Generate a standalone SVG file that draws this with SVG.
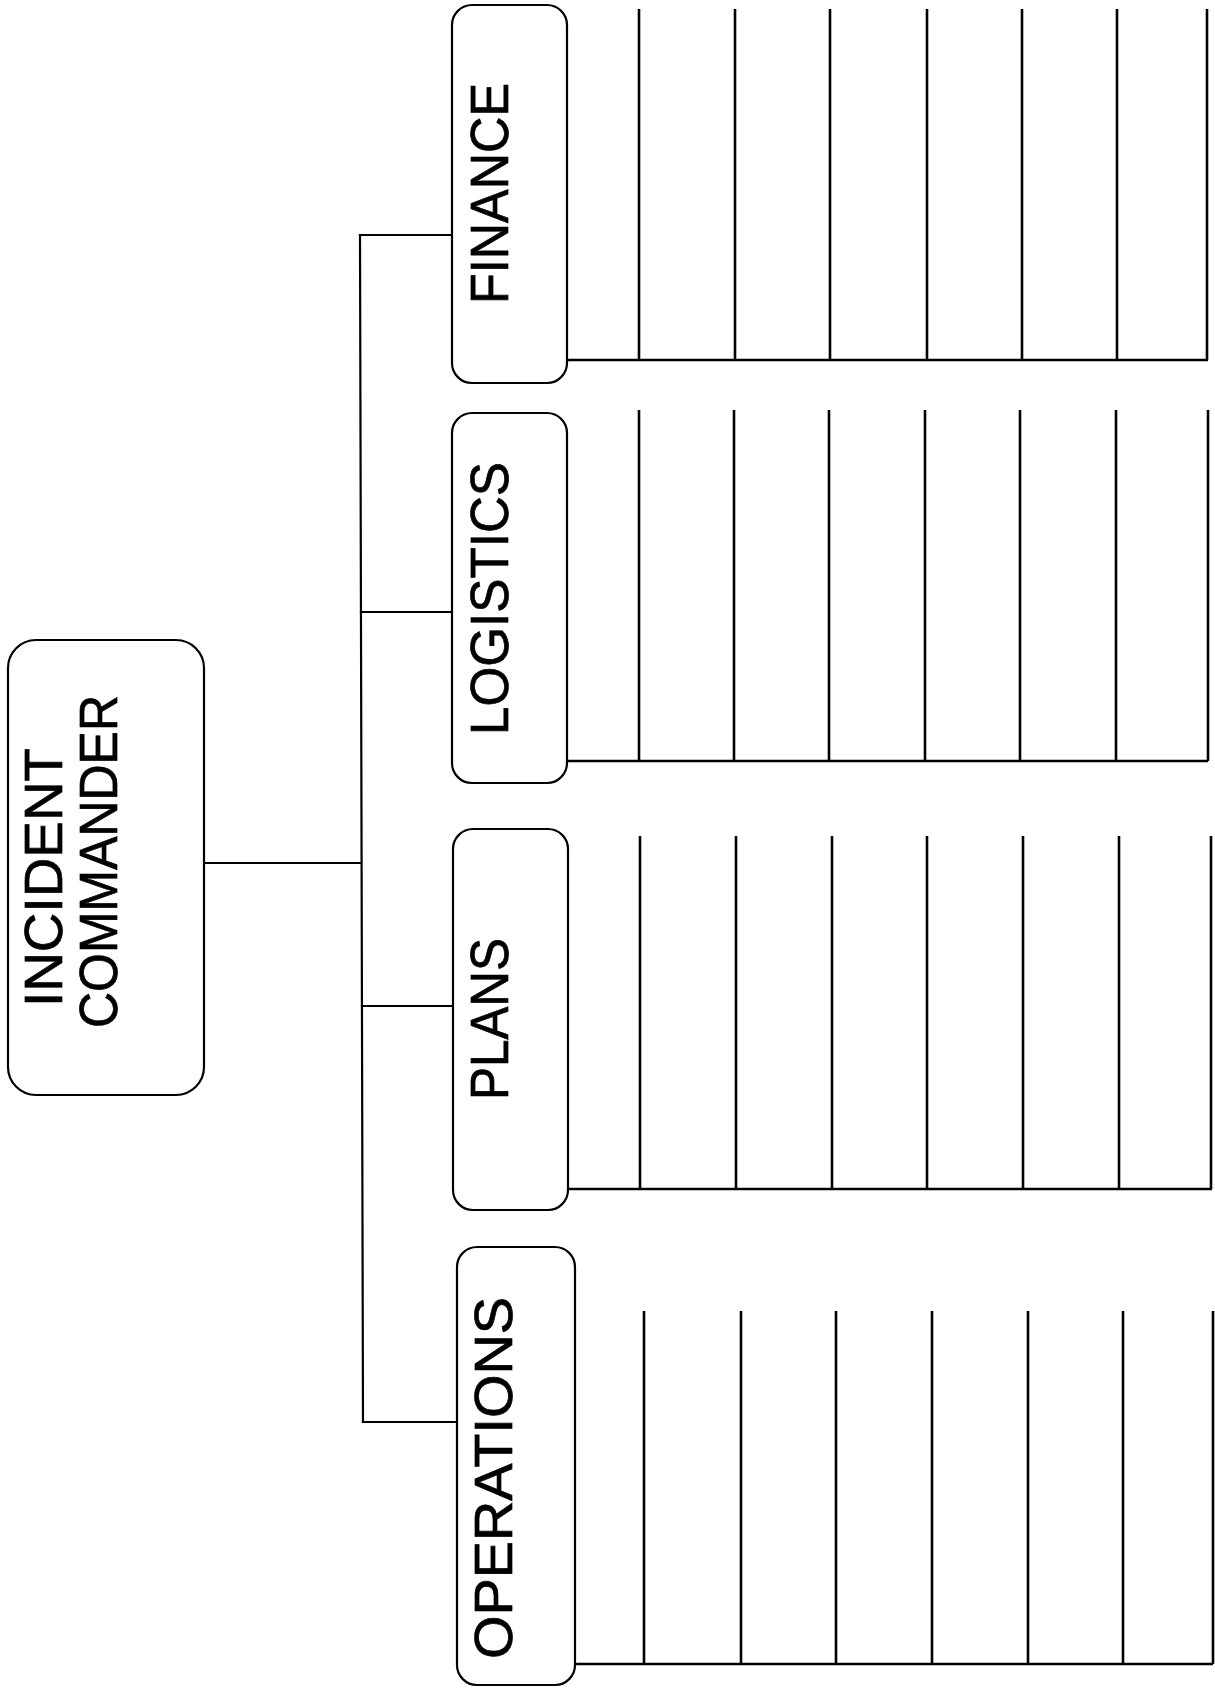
<svg xmlns="http://www.w3.org/2000/svg" width="1215" height="1689" viewBox="0 0 1215 1689">
<style>
.box{fill:#fff;stroke:#000;stroke-width:2.2}
.lbl{font-family:"Liberation Sans",Arial,Helvetica,sans-serif;font-size:53px;fill:#000;stroke:#000;stroke-width:0.7}
.ln{stroke:#000;stroke-width:2.2;fill:none;stroke-linecap:square}
.comb{stroke:#000;stroke-width:2.6;fill:none}
</style>
<rect width="1215" height="1689" fill="#fff"/>
<g id="connectors">
<line class="ln" x1="204" y1="863" x2="361" y2="863"/>
<line class="ln" x1="360" y1="235" x2="363" y2="1422"/>
<line class="ln" x1="360" y1="235" x2="452" y2="235"/>
<line class="ln" x1="361" y1="612" x2="452" y2="612"/>
<line class="ln" x1="362" y1="1006" x2="453" y2="1006"/>
<line class="ln" x1="363" y1="1422" x2="457" y2="1422"/>
</g>
<g id="ic">
<rect class="box" x="8" y="640" width="196" height="455" rx="28"/>
<text class="lbl" font-size="52" transform="translate(62,1007) rotate(-90)" textLength="259" lengthAdjust="spacingAndGlyphs">INCIDENT</text>
<text class="lbl" font-size="52" transform="translate(117,1028) rotate(-90)" textLength="333" lengthAdjust="spacingAndGlyphs">COMMANDER</text>
</g>
<g id="finance">
<rect class="box" x="452" y="5" width="115" height="378" rx="20"/>
<text class="lbl" transform="translate(508,304) rotate(-90)" textLength="221" lengthAdjust="spacingAndGlyphs">FINANCE</text>
<path class="comb" d="M567,360H1208M639,9V360M735,9V360M830,9V360M927,9V360M1022,9V360M1117,9V360M1207,9V360"/>
</g>
<g id="logistics">
<rect class="box" x="452" y="413" width="115" height="370" rx="20"/>
<text class="lbl" transform="translate(508,735) rotate(-90)" textLength="273" lengthAdjust="spacingAndGlyphs">LOGISTICS</text>
<path class="comb" d="M567,761H1208M639,410V761M734,410V761M829,410V761M925,410V761M1020,410V761M1116,410V761M1208,410V761"/>
</g>
<g id="plans">
<rect class="box" x="453" y="829" width="115" height="381" rx="20"/>
<text class="lbl" transform="translate(508,1100) rotate(-90)" textLength="162" lengthAdjust="spacingAndGlyphs">PLANS</text>
<path class="comb" d="M568,1189H1212M640,836V1189M736,836V1189M832,836V1189M927,836V1189M1023,836V1189M1119,836V1189M1211,836V1189"/>
</g>
<g id="operations">
<rect class="box" x="457" y="1247" width="118" height="438" rx="20"/>
<text class="lbl" transform="translate(512,1659) rotate(-90)" textLength="362" lengthAdjust="spacingAndGlyphs">OPERATIONS</text>
<path class="comb" d="M575,1664H1213M644,1311V1664M741,1311V1664M836,1311V1664M932,1311V1664M1028,1311V1664M1123,1311V1664M1213,1311V1664"/>
</g>
</svg>
